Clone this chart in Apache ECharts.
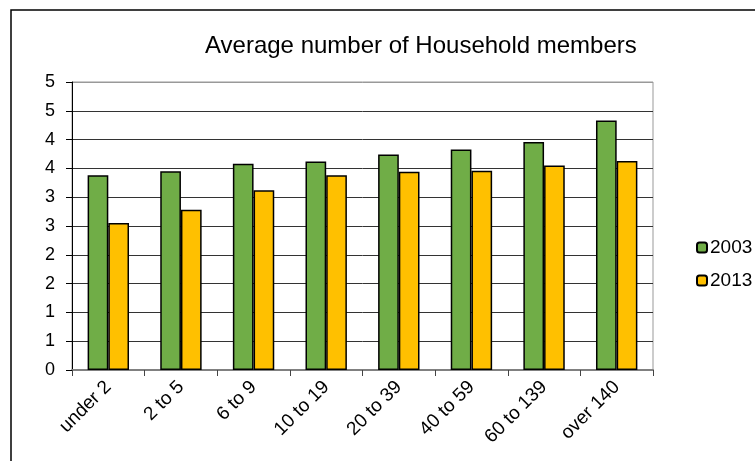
<!DOCTYPE html>
<html>
<head>
    <meta charset="utf-8">
    <title>Average number of Household members</title>
    <script src="https://cdn.jsdelivr.net/npm/echarts@6/dist/echarts.min.js"></script>
    <style>
        html, body { margin: 0; padding: 0; background: #fff; }
        #main { width: 755px; height: 461px; }
    </style>
</head>
<body>
<div id="main"></div>
<script type="text/javascript">
    // data
    var categories = ['under 2', '2 to 5', '6 to 9', '10 to 19', '20 to 39', '40 to 59', '60 to 139', 'over 140'];
    var seriesNames = ['2003', '2013'];
    var values2003 = [3.38, 3.45, 3.58, 3.62, 3.74, 3.83, 3.96, 4.33];
    var values2013 = [2.55, 2.78, 3.12, 3.38, 3.44, 3.46, 3.55, 3.63];
    // y labels are shown rounded, as in the original spreadsheet
    var yTickLabels = ['0', '1', '1', '2', '2', '3', '3', '4', '4', '5', '5'];

    var font = "'Liberation Sans', Arial, sans-serif";
    var myChart = echarts.init(document.getElementById('main'));

    // gridline colours: last one (top) is the grey plot border
    var gridColors = [];
    for (var i = 0; i < yTickLabels.length; i++) {
        gridColors.push(i == yTickLabels.length - 1 ? '#999' : '#333');
    }

    var option = {
        backgroundColor: '#fff',
        animation: false,
        title: {
            text: 'Average number of Household members',
            left: 200,
            top: 29,
            textStyle: { fontFamily: font, fontSize: 24, fontWeight: 'normal', color: '#000' }
        },
        legend: {
            orient: 'vertical',
            left: 691,
            top: 233,
            itemWidth: 10,
            itemHeight: 10,
            itemGap: 14,
            data: seriesNames,
            textStyle: { fontFamily: font, fontSize: 19, color: '#000', padding: [0, 0, 0, -2] }
        },
        grid: {
            left: 72,
            right: 102,
            top: 82,
            bottom: 91,
            show: true,
            borderColor: '#999',
            borderWidth: 1
        },
        xAxis: {
            type: 'category',
            data: categories,
            boundaryGap: true,
            axisLine: { lineStyle: { color: '#808080', width: 2 } },
            axisTick: { show: true, length: 6, lineStyle: { color: '#444', width: 1 } },
            axisLabel: { rotate: 45, margin: 14, fontFamily: font, fontSize: 19, color: '#000', interval: 0 }
        },
        yAxis: {
            type: 'value',
            min: 0,
            max: 5,
            interval: 0.5,
            axisLine: { show: true, lineStyle: { color: '#000', width: 1 } },
            axisTick: { show: true, length: 6, lineStyle: { color: '#000' } },
            axisLabel: {
                margin: 17,
                fontFamily: font,
                fontSize: 18,
                color: '#000',
                formatter: function (v, idx) { return yTickLabels[idx]; }
            },
            splitLine: { show: true, lineStyle: { color: gridColors, width: 1 } }
        },
        series: [
            {
                name: seriesNames[0],
                type: 'bar',
                data: values2003,
                barGap: '0%',
                barCategoryGap: '43%',
                itemStyle: { color: '#70AD47', borderColor: '#000', borderWidth: 1.5 }
            },
            {
                name: seriesNames[1],
                type: 'bar',
                data: values2013,
                itemStyle: { color: '#FFC000', borderColor: '#000', borderWidth: 1.5 }
            }
        ],
        graphic: [
            {
                type: 'polyline',
                shape: { points: [[11, 461], [11, 10], [755, 10]] },
                style: { stroke: '#000', lineWidth: 1.5, fill: null },
                silent: true
            }
        ]
    };
    myChart.setOption(option);
</script>
</body>
</html>
